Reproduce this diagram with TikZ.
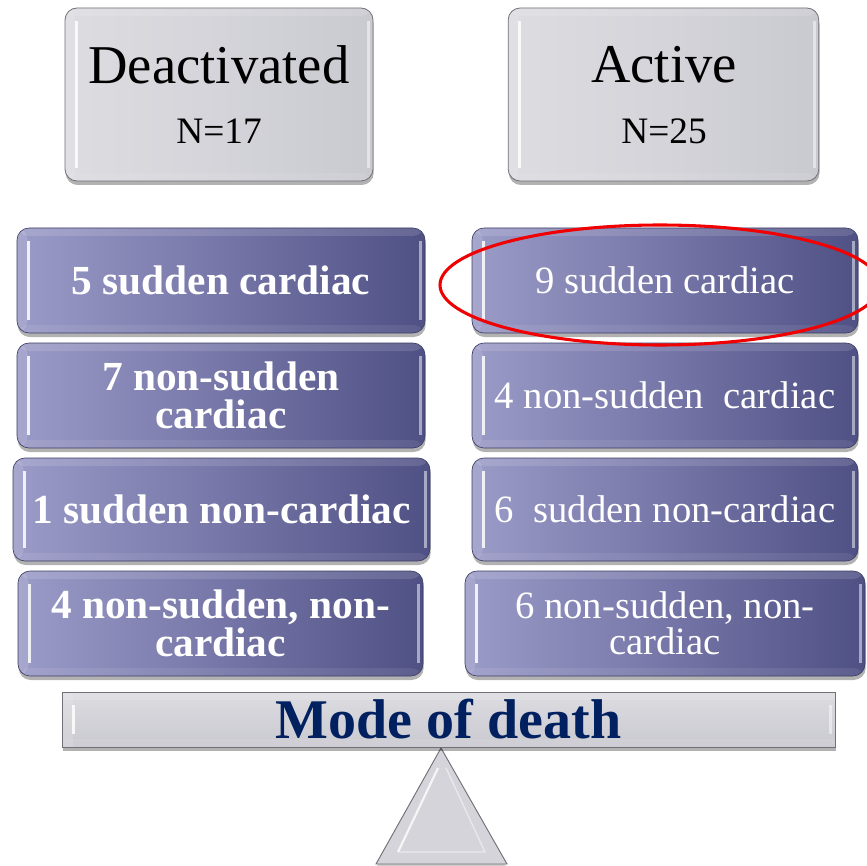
\documentclass[tikz,border=0pt]{standalone}
\usepackage{fontspec}
\setmainfont{Liberation Serif}
\usetikzlibrary{shadows,shapes.geometric}
\definecolor{pl}{HTML}{9B9BC8}
\definecolor{pm}{HTML}{7676A8}
\definecolor{pd}{HTML}{4F5084}
\definecolor{pedge}{HTML}{3C3D63}
\definecolor{gl}{HTML}{DCDCE1}
\definecolor{gm}{HTML}{D4D4DA}
\definecolor{gd}{HTML}{C9C9D0}
\definecolor{gedge}{HTML}{707078}
\definecolor{navy}{HTML}{002060}
\definecolor{ringred}{HTML}{F00000}
\begin{document}
\begin{tikzpicture}[x=0.75pt,y=-0.75pt,
  bevel/.style={path picture={
    \fill[white,opacity=.13] (path picture bounding box.north west) rectangle ([yshift=-6pt]path picture bounding box.north east);
    \fill[white,opacity=.08] ([yshift=6pt]path picture bounding box.south west) rectangle (path picture bounding box.south east);
    \draw[white,opacity=.85,line width=2pt] ([xshift=8.5pt,yshift=-10pt]path picture bounding box.north west) -- ([xshift=8.5pt,yshift=10pt]path picture bounding box.south west);
    \fill[white,opacity=.12] (path picture bounding box.north west) rectangle ([xshift=8pt]path picture bounding box.south west);
    \draw[white,opacity=.5,line width=2pt] ([xshift=-3.5pt,yshift=-10pt]path picture bounding box.north east) -- ([xshift=-3.5pt,yshift=10pt]path picture bounding box.south east);
  }},
  shad/.style={drop shadow={shadow xshift=0.5pt,shadow yshift=-3pt,opacity=.3,fill=black}},
  purpbox/.style={rounded corners=9pt, inner sep=0pt, draw=pedge, line width=0.5pt,
    left color=pl, right color=pd, middle color=pm, text=white, align=center, shad, bevel},
  greybox/.style={rounded corners=9pt, inner sep=0pt, draw=gedge, line width=0.6pt,
    left color=gl, right color=gd, middle color=gm, shad, bevel},
  lefttxt/.style={font=\fontsize{31}{28}\selectfont\bfseries},
  righttxt/.style={font=\fontsize{29}{27}\selectfont},
  headbig/.style={font=\fontsize{41}{44}\selectfont, text=black, inner sep=0pt},
  headsmall/.style={font=\fontsize{28}{30}\selectfont, text=black, inner sep=0pt},
]
\useasboundingbox (0,0) rectangle (867,866);

% header boxes
\node[greybox, minimum width=231pt, minimum height=129.75pt] (deact) at (219,94.5) {};
\node[headbig] (deactT) at (219,65) {Deactivated};
\node[headsmall] (deactN) at (219,131) {N=17};
\node[greybox, minimum width=233pt, minimum height=129.75pt] (act) at (663.5,94.5) {};
\node[headbig] (actT) at (664,65) {Active};
\node[headsmall] (actN) at (664,131) {N=25};

% left column
\node[purpbox, lefttxt, minimum width=306pt, minimum height=78.75pt] (l1) at (221,280.5) {5 sudden cardiac};
\node[purpbox, lefttxt, minimum width=306pt, minimum height=78.75pt] (l2) at (221,395.5) {7 non-sudden\\cardiac};
\node[purpbox, lefttxt, minimum width=312.75pt, minimum height=77.25pt] (l3) at (221.5,509.5) {1 sudden non-cardiac};
\node[purpbox, lefttxt, minimum width=303.75pt, minimum height=78.75pt] (l4) at (220.5,623.5) {4 non-sudden, non-\\cardiac};

% right column
\node[purpbox, righttxt, minimum width=289.5pt, minimum height=78.75pt] (r1) at (665,280.5) {9 sudden cardiac};
\node[purpbox, righttxt, minimum width=289.5pt, minimum height=78.75pt] (r2) at (665,395.5) {4 non-sudden\ \ cardiac};
\node[purpbox, righttxt, minimum width=289.5pt, minimum height=77.25pt] (r3) at (665,509.5) {6\ \ sudden non-cardiac};
\node[purpbox, righttxt, minimum width=300pt, minimum height=78.75pt] (r4) at (665,623.5) {6 non-sudden, non-\\cardiac};

% highlight ring
\node[ellipse, draw=ringred, line width=2.3pt, minimum width=330pt, minimum height=90pt, inner sep=0pt] (ring) at (660,285) {};

% fulcrum
\coordinate (apex) at (441,748);
\coordinate (bl) at (376,864);
\coordinate (br) at (507,864);
\fill[black,opacity=.2] ([yshift=-3pt]apex) -- ([yshift=-3pt]bl) -- ([yshift=-3pt]br) -- cycle;
\filldraw[fill=gm, draw=gedge, line width=0.7pt] (apex) -- (bl) -- (br) -- cycle;
\draw[white, line width=1.6pt, opacity=.8] (438,768) -- (398,852);
\draw[white, line width=1pt, opacity=.5] (398,852) -- (485,852) -- (446,768);

% beam
\node[rectangle, inner sep=0pt, draw=gedge, line width=0.7pt, top color=gl, bottom color=gd, shad, bevel,
  minimum width=579.75pt, minimum height=41.25pt, text=navy,
  font=\fontsize{42}{44}\selectfont\bfseries] (beam) at (448.5,719.5) {Mode of death};
\end{tikzpicture}
\end{document}
